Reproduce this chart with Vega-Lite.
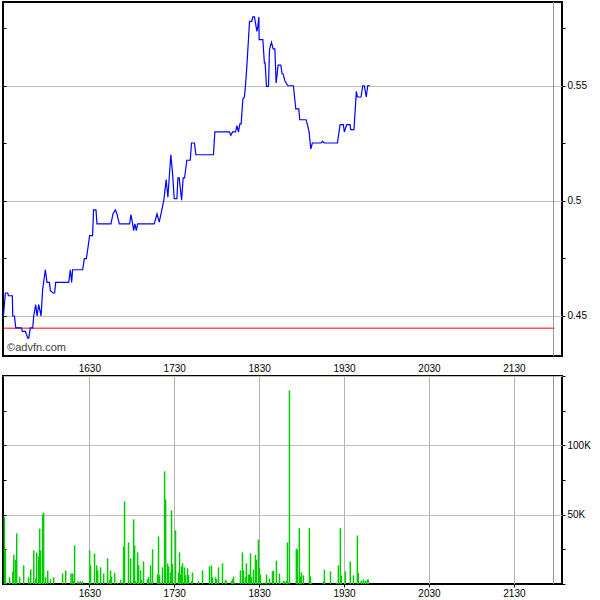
{
  "$schema": "https://vega.github.io/schema/vega-lite/v6.json",
  "padding": {"left": 0, "top": 0, "right": 0, "bottom": 0},
  "background": "white",
  "spacing": 4,
  "config": {
    "view": {"stroke": "black", "strokeWidth": 2},
    "font": "Liberation Sans",
    "axis": {"labelFont": "Liberation Sans", "labelFontSize": 10, "labelColor": "black", "domain": false, "tickColor": "black", "title": null, "labelOverlap": false}
  },
  "datasets": {
    "price": [
      {"t":929.3,"p":0.45},{"t":930.7,"p":0.46},{"t":932.4,"p":0.46},{"t":932.8,"p":0.4588},{"t":935.6,"p":0.4588},{"t":935.9,"p":0.45},{"t":937.1,"p":0.45},{"t":938.0,"p":0.4448},{"t":942.0,"p":0.4448},{"t":942.7,"p":0.4433},{"t":944.8,"p":0.4433},{"t":946.5,"p":0.4404},{"t":947.2,"p":0.4404},{"t":948.3,"p":0.4448},{"t":950.0,"p":0.4448},{"t":950.7,"p":0.45},{"t":952.1,"p":0.4549},{"t":953.1,"p":0.45},{"t":954.2,"p":0.4549},{"t":955.9,"p":0.45},{"t":957.0,"p":0.4614},{"t":958.9,"p":0.4701},{"t":960.1,"p":0.4646},{"t":961.8,"p":0.4646},{"t":962.5,"p":0.461},{"t":964.4,"p":0.46},{"t":965.5,"p":0.46},{"t":966.2,"p":0.4646},{"t":975.4,"p":0.4646},{"t":976.6,"p":0.4701},{"t":977.5,"p":0.4646},{"t":978.2,"p":0.4701},{"t":985.3,"p":0.4701},{"t":986.5,"p":0.4749},{"t":987.9,"p":0.4749},{"t":989.1,"p":0.48},{"t":990.2,"p":0.4849},{"t":992.3,"p":0.4849},{"t":993.0,"p":0.4961},{"t":994.7,"p":0.4961},{"t":995.4,"p":0.49},{"t":1005.3,"p":0.49},{"t":1006.7,"p":0.4944},{"t":1008.4,"p":0.4961},{"t":1009.5,"p":0.4944},{"t":1011.2,"p":0.49},{"t":1018.5,"p":0.49},{"t":1019.4,"p":0.4941},{"t":1020.6,"p":0.49},{"t":1021.3,"p":0.4871},{"t":1022.2,"p":0.49},{"t":1023.2,"p":0.4871},{"t":1024.1,"p":0.49},{"t":1035.9,"p":0.49},{"t":1037.8,"p":0.4944},{"t":1039.4,"p":0.4908},{"t":1040.8,"p":0.4948},{"t":1042.7,"p":0.5006},{"t":1044.3,"p":0.5093},{"t":1045.5,"p":0.5016},{"t":1047.6,"p":0.5201},{"t":1048.8,"p":0.512},{"t":1050.0,"p":0.501},{"t":1051.9,"p":0.501},{"t":1052.6,"p":0.51},{"t":1053.5,"p":0.51},{"t":1055.2,"p":0.5003},{"t":1056.3,"p":0.51},{"t":1057.3,"p":0.51},{"t":1058.9,"p":0.5177},{"t":1061.3,"p":0.5177},{"t":1062.2,"p":0.5252},{"t":1064.3,"p":0.5252},{"t":1065.3,"p":0.5201},{"t":1077.7,"p":0.5201},{"t":1078.7,"p":0.53},{"t":1089.0,"p":0.53},{"t":1090.0,"p":0.5285},{"t":1091.2,"p":0.53},{"t":1093.3,"p":0.53},{"t":1094.3,"p":0.5327},{"t":1095.4,"p":0.53},{"t":1096.4,"p":0.5335},{"t":1097.3,"p":0.5335},{"t":1098.5,"p":0.5443},{"t":1099.6,"p":0.5452},{"t":1100.3,"p":0.5498},{"t":1101.3,"p":0.5585},{"t":1103.2,"p":0.5781},{"t":1104.8,"p":0.5781},{"t":1105.5,"p":0.58},{"t":1106.7,"p":0.58},{"t":1108.4,"p":0.5737},{"t":1109.1,"p":0.5759},{"t":1109.8,"p":0.58},{"t":1110.0,"p":0.5701},{"t":1112.6,"p":0.5701},{"t":1113.7,"p":0.56},{"t":1114.2,"p":0.56},{"t":1115.2,"p":0.5498},{"t":1116.6,"p":0.5498},{"t":1117.3,"p":0.5658},{"t":1118.7,"p":0.569},{"t":1119.9,"p":0.5661},{"t":1121.1,"p":0.5661},{"t":1122.0,"p":0.5513},{"t":1123.4,"p":0.5591},{"t":1125.3,"p":0.5591},{"t":1126.2,"p":0.5553},{"t":1126.9,"p":0.5553},{"t":1128.3,"p":0.552},{"t":1130.3,"p":0.5501},{"t":1134.2,"p":0.5501},{"t":1135.9,"p":0.54},{"t":1138.0,"p":0.54},{"t":1138.7,"p":0.5353},{"t":1143.2,"p":0.5353},{"t":1144.1,"p":0.5332},{"t":1145.3,"p":0.53},{"t":1146.5,"p":0.5226},{"t":1147.6,"p":0.5252},{"t":1153.8,"p":0.5252},{"t":1154.7,"p":0.526},{"t":1155.9,"p":0.5252},{"t":1165.3,"p":0.5252},{"t":1167.2,"p":0.5332},{"t":1169.5,"p":0.5332},{"t":1170.2,"p":0.53},{"t":1171.9,"p":0.5332},{"t":1174.2,"p":0.5332},{"t":1174.7,"p":0.531},{"t":1177.0,"p":0.531},{"t":1178.7,"p":0.5477},{"t":1179.4,"p":0.5452},{"t":1182.0,"p":0.5452},{"t":1183.2,"p":0.5501},{"t":1184.3,"p":0.5501},{"t":1185.7,"p":0.5452},{"t":1186.7,"p":0.5501},{"t":1188.4,"p":0.5501}
    ],
    "vol": [
      {"t":930.0,"v":48000},{"t":930.7,"v":24700},{"t":931.4,"v":1000},{"t":933.7,"v":4800},{"t":935.9,"v":9000},{"t":936.6,"v":21000},{"t":937.8,"v":17500},{"t":938.7,"v":36500},{"t":940.8,"v":4800},{"t":943.6,"v":13400},{"t":947.1,"v":4800},{"t":948.6,"v":10500},{"t":950.7,"v":24200},{"t":952.1,"v":4000},{"t":952.8,"v":22800},{"t":954.2,"v":19900},{"t":954.9,"v":39900},{"t":955.6,"v":24200},{"t":957.0,"v":50000},{"t":957.7,"v":51400},{"t":959.1,"v":4800},{"t":960.6,"v":9600},{"t":962.5,"v":3500},{"t":964.8,"v":4800},{"t":971.1,"v":7600},{"t":973.3,"v":9800},{"t":977.1,"v":7600},{"t":978.2,"v":7600},{"t":978.9,"v":2000},{"t":979.6,"v":27800},{"t":982.0,"v":2000},{"t":983.6,"v":2000},{"t":985.1,"v":2000},{"t":990.2,"v":24200},{"t":990.9,"v":13400},{"t":993.7,"v":22000},{"t":995.2,"v":13400},{"t":995.9,"v":9800},{"t":998.0,"v":12000},{"t":1000.1,"v":7600},{"t":1002.9,"v":18500},{"t":1004.3,"v":3000},{"t":1005.0,"v":9800},{"t":1005.7,"v":5400},{"t":1007.9,"v":8000},{"t":1010.0,"v":1000},{"t":1012.1,"v":3000},{"t":1014.2,"v":26900},{"t":1014.9,"v":59600},{"t":1017.7,"v":30000},{"t":1019.2,"v":18500},{"t":1021.3,"v":46600},{"t":1022.0,"v":27800},{"t":1022.7,"v":2000},{"t":1024.1,"v":22800},{"t":1024.8,"v":13400},{"t":1026.2,"v":9800},{"t":1026.9,"v":3000},{"t":1028.3,"v":16300},{"t":1031.1,"v":3500},{"t":1031.9,"v":4800},{"t":1033.3,"v":13400},{"t":1034.7,"v":25000},{"t":1038.2,"v":6900},{"t":1038.9,"v":34300},{"t":1039.6,"v":6400},{"t":1040.3,"v":1000},{"t":1041.7,"v":12000},{"t":1043.2,"v":81200},{"t":1043.9,"v":61000},{"t":1045.3,"v":14900},{"t":1046.0,"v":12700},{"t":1047.4,"v":8300},{"t":1048.1,"v":53100},{"t":1048.8,"v":14200},{"t":1050.9,"v":38700},{"t":1053.0,"v":8300},{"t":1053.7,"v":22800},{"t":1054.4,"v":6700},{"t":1055.2,"v":12700},{"t":1055.9,"v":14900},{"t":1057.3,"v":12000},{"t":1058.0,"v":6400},{"t":1059.4,"v":11300},{"t":1060.1,"v":6400},{"t":1062.2,"v":2000},{"t":1062.9,"v":8300},{"t":1065.7,"v":600},{"t":1067.2,"v":2000},{"t":1070.0,"v":9800},{"t":1074.9,"v":12700},{"t":1076.3,"v":13400},{"t":1077.0,"v":4800},{"t":1079.2,"v":4800},{"t":1079.9,"v":3500},{"t":1081.3,"v":12000},{"t":1084.1,"v":14900},{"t":1086.2,"v":3000},{"t":1086.9,"v":2000},{"t":1090.4,"v":2000},{"t":1091.2,"v":3500},{"t":1091.9,"v":5400},{"t":1093.3,"v":600},{"t":1095.4,"v":600},{"t":1096.8,"v":9800},{"t":1098.2,"v":22800},{"t":1098.9,"v":9800},{"t":1100.3,"v":4800},{"t":1101.0,"v":14900},{"t":1102.4,"v":6900},{"t":1103.2,"v":6900},{"t":1103.9,"v":22000},{"t":1104.6,"v":4800},{"t":1106.0,"v":10500},{"t":1107.4,"v":21100},{"t":1108.1,"v":17500},{"t":1109.5,"v":32000},{"t":1110.2,"v":11500},{"t":1110.9,"v":6700},{"t":1112.3,"v":700},{"t":1114.4,"v":1000},{"t":1115.2,"v":6700},{"t":1117.3,"v":3800},{"t":1119.4,"v":9100},{"t":1120.1,"v":9600},{"t":1122.2,"v":16800},{"t":1124.3,"v":7500},{"t":1125.0,"v":1000},{"t":1127.2,"v":2400},{"t":1127.9,"v":1700},{"t":1129.3,"v":2400},{"t":1130.0,"v":30000},{"t":1131.4,"v":139500},{"t":1136.3,"v":25500},{"t":1137.0,"v":24800},{"t":1138.4,"v":40300},{"t":1139.2,"v":5500},{"t":1139.9,"v":8400},{"t":1141.3,"v":6200},{"t":1145.5,"v":40300},{"t":1146.2,"v":5500},{"t":1146.9,"v":1000},{"t":1155.4,"v":1700},{"t":1156.1,"v":10300},{"t":1160.4,"v":9100},{"t":1164.6,"v":1000},{"t":1166.0,"v":13400},{"t":1167.4,"v":40300},{"t":1168.1,"v":6200},{"t":1170.9,"v":9100},{"t":1174.4,"v":16300},{"t":1176.6,"v":6200},{"t":1179.4,"v":35000},{"t":1180.1,"v":7900},{"t":1182.2,"v":2400},{"t":1183.6,"v":3200},{"t":1185.0,"v":2400},{"t":1186.4,"v":3200},{"t":1187.1,"v":3200}
    ]
  },
  "vconcat": [
    {
      "width": 559,
      "height": 354,
      "resolve": {"axis": {"y": "independent"}},
      "layer": [
        {
          "data": {"values": [{}]},
          "mark": {"type": "rule", "color": "#999999", "strokeWidth": 1},
          "encoding": {
            "x": {"datum": 1318, "type": "quantitative", "scale": {"domain": [929, 1324], "nice": false, "zero": false}, "axis": null}
          }
        },
        {
          "data": {"values": [{}]},
          "mark": {"type": "rule", "color": "#ff0000", "strokeWidth": 1},
          "encoding": {
            "x": {"datum": 929.3, "type": "quantitative", "axis": null},
            "x2": {"datum": 1318.5},
            "y": {"datum": 0.4447, "type": "quantitative", "scale": {"domain": [0.4326, 0.5865], "nice": false, "zero": false},
                  "axis": {"orient": "left", "values": [0.45, 0.475, 0.5, 0.525, 0.55, 0.575], "labels": false, "grid": false, "tickSize": -3, "ticks": true}}
          }
        },
        {
          "data": {"values": [{}]},
          "mark": {"type": "text", "text": "©advfn.com", "align": "left", "baseline": "middle", "fontSize": 11, "color": "#404040", "font": "Liberation Sans"},
          "encoding": {
            "x": {"datum": 931.9, "type": "quantitative", "axis": null},
            "y": {"datum": 0.4362, "type": "quantitative", "axis": null}
          }
        },
        {
          "data": {"name": "price"},
          "mark": {"type": "line", "color": "#0000ff", "strokeWidth": 1.2},
          "encoding": {
            "x": {"field": "t", "type": "quantitative", "scale": {"domain": [929, 1324], "nice": false, "zero": false},
                  "axis": {"orient": "bottom", "values": [990, 1050, 1110, 1170, 1230, 1290], "labels": false, "ticks": false, "grid": true, "gridColor": "#b0b4b8"}},
            "y": {"field": "p", "type": "quantitative", "scale": {"domain": [0.4326, 0.5865], "nice": false, "zero": false},
                  "axis": {"orient": "right", "values": [0.45, 0.475, 0.5, 0.525, 0.55, 0.575], "format": ".2~f",
                           "labelExpr": "(datum.value == 0.45 || datum.value == 0.5 || datum.value == 0.55) ? datum.label : ''",
                           "grid": true, "gridColor": "#c0c0b0",
                           "gridOpacity": {"condition": {"test": "datum.value == 0.45 || datum.value == 0.5 || datum.value == 0.55", "value": 1}, "value": 0},
                           "tickSize": 3, "labelPadding": 2}}
          }
        }
      ]
    },
    {
      "width": 559,
      "height": 208,
      "resolve": {"axis": {"x": "independent", "y": "independent"}},
      "layer": [
        {
          "data": {"values": [{}]},
          "mark": {"type": "rule", "color": "#999999", "strokeWidth": 1},
          "encoding": {
            "x": {"datum": 1318, "type": "quantitative", "scale": {"domain": [929, 1324], "nice": false, "zero": false},
                  "axis": {"orient": "bottom", "values": [990, 1050, 1110, 1170, 1230, 1290], "grid": false, "tickSize": 3,
                           "labelExpr": "format(floor(datum.value / 60), '02d') + format(datum.value % 60, '02d')", "labelPadding": 1}}
          }
        },
        {
          "data": {"values": [{}]},
          "mark": {"type": "rule", "opacity": 0},
          "encoding": {
            "y": {"datum": 0, "type": "quantitative", "scale": {"domain": [0, 150000], "nice": false, "zero": false},
                  "axis": {"orient": "left", "values": [25000, 50000, 75000, 100000, 125000], "labels": false, "grid": false, "tickSize": -3}}
          }
        },
        {
          "data": {"name": "vol"},
          "mark": {"type": "rule", "color": "#00cc00", "strokeWidth": 1.5},
          "encoding": {
            "x": {"field": "t", "type": "quantitative", "scale": {"domain": [929, 1324], "nice": false, "zero": false},
                  "axis": {"orient": "top", "values": [990, 1050, 1110, 1170, 1230, 1290], "ticks": false, "grid": true, "gridColor": "#b0b4b8",
                           "labelExpr": "format(floor(datum.value / 60), '02d') + format(datum.value % 60, '02d')", "labelPadding": 3}},
            "y": {"field": "v", "type": "quantitative", "scale": {"domain": [0, 150000], "nice": false, "zero": false},
                  "axis": {"orient": "right", "values": [0, 25000, 50000, 75000, 100000, 125000, 150000],
                           "labelExpr": "datum.value == 50000 ? '50K' : (datum.value == 100000 ? '100K' : '')",
                           "grid": true, "gridColor": "#c0c0b0",
                           "gridOpacity": {"condition": {"test": "datum.value == 50000 || datum.value == 100000 || datum.value == 150000", "value": 1}, "value": 0},
                           "tickSize": 3, "labelPadding": 2}},
            "y2": {"datum": 0}
          }
        }
      ]
    }
  ]
}
